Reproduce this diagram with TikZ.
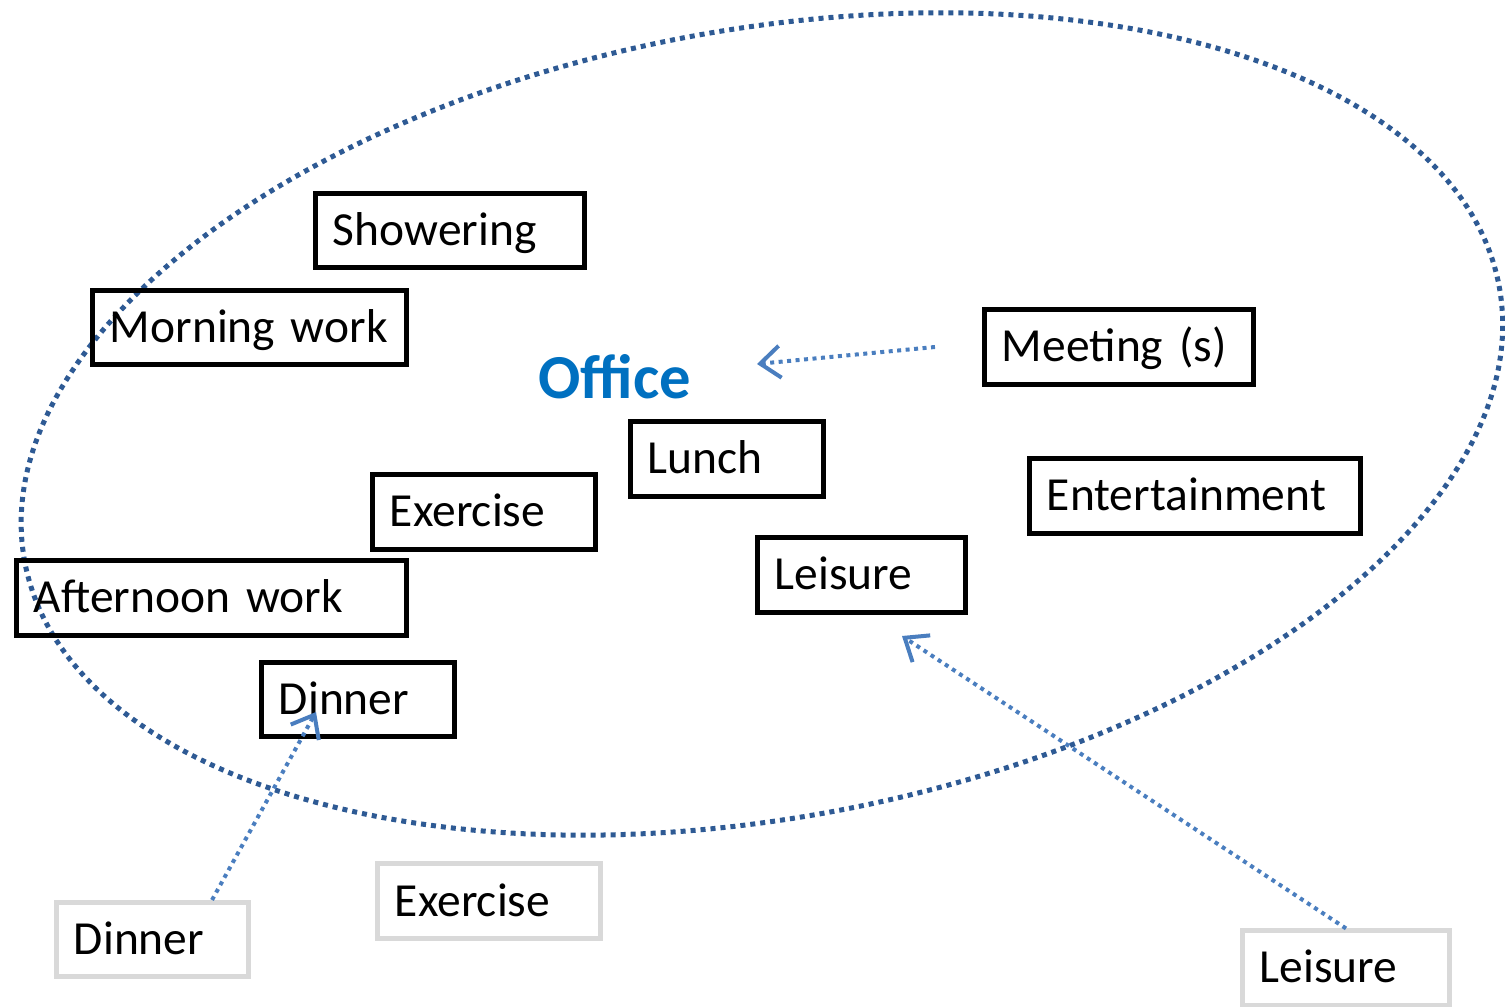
\documentclass[tikz,border=0pt]{standalone}
\usepackage{fontspec}
\setmainfont{Carlito}
\usetikzlibrary{arrows.meta}

\definecolor{ringblue}{HTML}{2E5A94}
\definecolor{arrowblue}{HTML}{4A7EBF}
\definecolor{officeblue}{HTML}{0070C0}
\definecolor{outgray}{HTML}{D9D9D9}

\tikzset{
  activity/.style={draw=black, line width=0.05cm, inner xsep=0.175cm, align=left,
    minimum height=0.74cm, text height=0.4cm, text depth=0.1cm,
    font=\fontsize{13.5}{16}\selectfont},
  outside/.style={activity, draw=outgray},
  pointer/.style={arrowblue, line width=0.04cm, dash pattern=on 0.04cm off 0.045cm,
    -{Straight Barb[length=0.2cm,width=0.32cm]}}
}

\begin{document}
\begin{tikzpicture}[x=0.01cm, y=-0.01cm]

\useasboundingbox (0,0) rectangle (1505,1007);

\coordinate(ringcenter) at (762, 424);

\draw[ringblue, line width=0.05cm, dash pattern=on 0.05cm off 0.05cm,
  rotate around={10.6:(ringcenter)}]
  (ringcenter) ellipse [x radius=750, y radius=394];

\node[text=officeblue, font=\bfseries\fontsize{17.8}{20}\selectfont] (office) at (614.5, 377) {Office};

\node[activity, text width=2.34cm] (showering) at (450, 230.5) {Showering};
\node[activity, text width=2.79cm] (morning) at (249.5, 327.5) {Morning work};
\node[activity, text width=2.34cm] (meeting) at (1119, 347) {Meeting (s)};
\node[activity, text width=1.58cm] (lunch) at (727, 459) {Lunch};
\node[activity, text width=1.88cm] (exercise) at (484, 512) {Exercise};
\node[activity, text width=2.96cm] (entertainment) at (1195, 496) {Entertainment};
\node[activity, text width=1.73cm] (leisure) at (861.5, 575) {Leisure};
\node[activity, text width=3.55cm] (afternoon) at (211.5, 598) {Afternoon work};
\node[activity, text width=1.58cm] (dinner) at (358, 699.5) {Dinner};

\node[outside, text width=1.57cm] (dinnerout) at (152.5, 939.5) {Dinner};
\node[outside, text width=1.88cm] (exerciseout) at (489, 901) {Exercise};
\node[outside, text width=1.72cm] (leisureout) at (1346, 968) {Leisure};

\coordinate(meetingtail) at (935, 347);
\coordinate(officetip) at (757, 364);
\coordinate(dinnertip) at (316, 712);
\coordinate(leisuretip) at (902, 636);

\draw[pointer] (meetingtail) to (officetip);
\draw[pointer] ([xshift=-0.39cm]dinnerout.north east) to (dinnertip);
\draw[pointer] (leisureout.north) to (leisuretip);

\end{tikzpicture}
\end{document}
